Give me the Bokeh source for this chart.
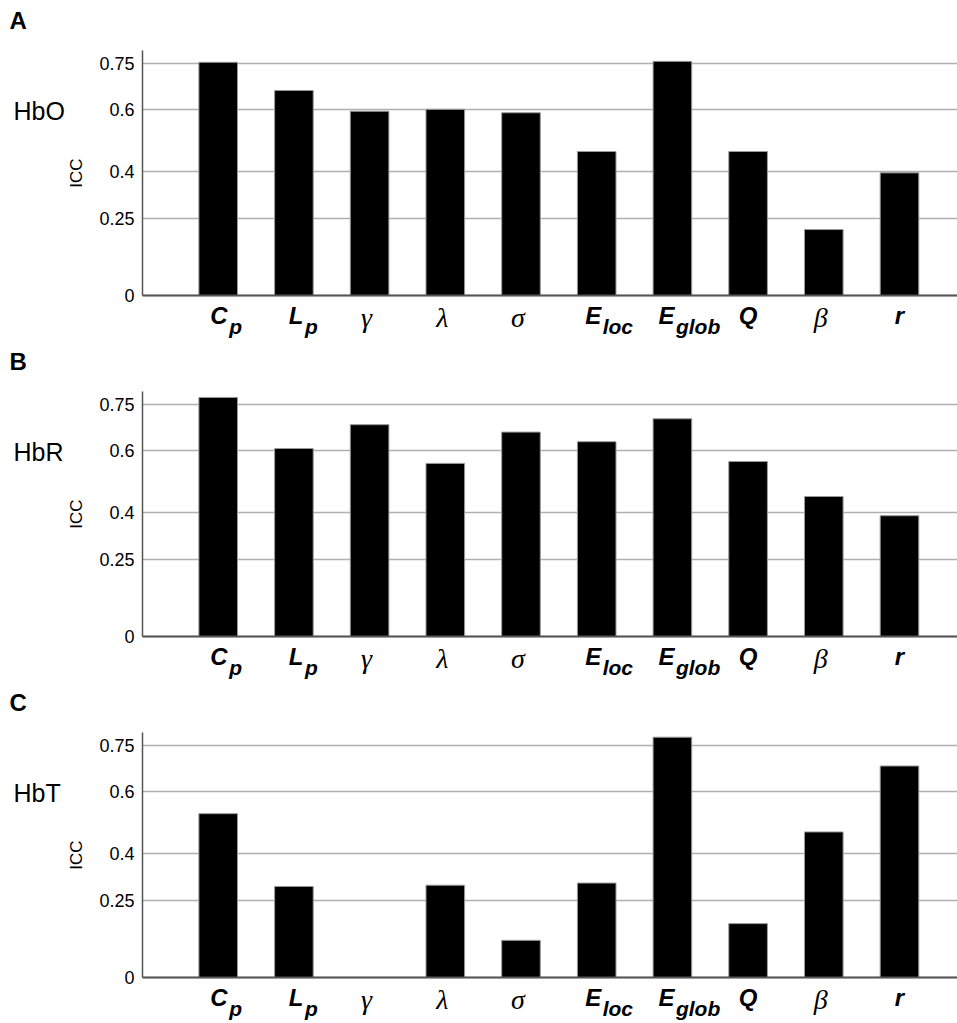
from bokeh.plotting import figure
from bokeh.layouts import column
from bokeh.models import Range1d, FixedTicker, ColumnDataSource, LabelSet, Label
from bokeh.core.properties import value
from bokeh.embed import file_html
from bokeh.resources import INLINE

# ---- data ----
metrics = ["Cp", "Lp", "gamma", "lambda", "sigma", "Eloc", "Eglob", "Q", "beta", "r"]
label_main = ["C", "L", "γ", "λ", "σ", "E", "E", "Q", "β", "r"]
label_sub = ["p", "p", "", "", "", "loc", "glob", "", "", ""]
greek_symbols = ["γ", "λ", "σ", "β"]

hbo = [0.753, 0.662, 0.595, 0.601, 0.590, 0.465, 0.756, 0.465, 0.213, 0.396]
hbr = [0.772, 0.607, 0.684, 0.559, 0.660, 0.629, 0.703, 0.565, 0.452, 0.390]
hbt = [0.529, 0.294, 0.0, 0.298, 0.120, 0.305, 0.776, 0.174, 0.470, 0.683]

panel_letters = ["A", "B", "C"]
signals = ["HbO", "HbR", "HbT"]
y_ticks = [0.0, 0.25, 0.4, 0.6, 0.75]
y_tick_labels = ["0", "0.25", "0.4", "0.6", "0.75"]

SANS = "Liberation Sans"
SERIF = "Liberation Serif"

# ---- geometry (pixels) ----
W, H = 957, 341
AXIS_X = 142          # y-axis position in px from the left
ZERO_Y = 295          # y=0 position in px from the top
PX_PER_CAT = 75.7
PX_PER_UNIT = 309.7
Y_TOP = 0.791
X_END = (W - AXIS_X) / PX_PER_CAT


def make_panel(letter, signal, values):
    n = len(metrics)
    xs = [i + 1 for i in range(n)]
    p = figure(width=W, height=H, output_backend="svg", toolbar_location=None,
               x_range=Range1d(-AXIS_X / PX_PER_CAT, X_END),
               y_range=Range1d(-(H - ZERO_Y) / PX_PER_UNIT, ZERO_Y / PX_PER_UNIT),
               min_border=0, title=None)
    p.outline_line_color = None
    p.background_fill_color = "white"
    p.border_fill_color = "white"

    # gridlines restricted to the data area
    p.xgrid.visible = False
    p.ygrid.ticker = FixedTicker(ticks=y_ticks)
    p.ygrid.grid_line_color = "#b0b0b0"
    p.ygrid.grid_line_width = 1.5
    p.ygrid.bounds = (0, Y_TOP)
    try:
        p.ygrid.cross_bounds = (0, X_END)
    except Exception:
        pass

    src = ColumnDataSource(dict(x=xs, top=values, name=metrics))
    p.vbar(x="x", top="top", bottom=0, width=0.51, source=src,
           fill_color="black", line_color="#9a9a9a", line_width=1)

    # x axis: line only, at y=0
    p.xaxis.fixed_location = 0
    p.xaxis.bounds = (0, X_END)
    p.xaxis.ticker = FixedTicker(ticks=[])
    p.xaxis.axis_line_color = "#555555"
    p.xaxis.axis_line_width = 2
    p.xaxis.major_tick_line_color = None
    p.xaxis.minor_tick_line_color = None

    # y axis at x=0
    p.yaxis.fixed_location = 0
    p.yaxis.bounds = (0, Y_TOP)
    p.yaxis.ticker = FixedTicker(ticks=y_ticks)
    p.yaxis.major_label_overrides = dict(zip(y_ticks, y_tick_labels))
    p.yaxis.major_tick_line_color = None
    p.yaxis.minor_tick_line_color = None
    p.yaxis.major_tick_out = 0
    p.yaxis.major_tick_in = 0
    p.yaxis.axis_line_color = "#555555"
    p.yaxis.axis_line_width = 1.5
    p.yaxis.major_label_text_font = SANS
    p.yaxis.major_label_text_font_size = "18px"
    p.yaxis.major_label_text_color = "black"
    p.yaxis.major_label_standoff = 8
    p.yaxis.axis_label = "ICC"
    p.yaxis.axis_label_text_font = SANS
    p.yaxis.axis_label_text_font_style = "normal"
    p.yaxis.axis_label_text_font_size = "17px"
    p.yaxis.axis_label_text_color = "black"
    p.yaxis.axis_label_standoff = 10

    # category labels
    with_sub = [i for i in range(n) if label_sub[i]]
    plain = [i for i in range(n) if not label_sub[i] and label_main[i] not in greek_symbols]
    greek = [i for i in range(n) if label_main[i] in greek_symbols]
    joint = [12 - 2.5 * len(label_sub[i]) for i in with_sub]

    s_main = ColumnDataSource(dict(x=[xs[i] for i in with_sub], y=[0] * len(with_sub),
                                   t=[label_main[i] for i in with_sub], dx=joint))
    s_sub = ColumnDataSource(dict(x=[xs[i] for i in with_sub], y=[0] * len(with_sub),
                                  t=[label_sub[i] for i in with_sub], dx=[d + 1.5 for d in joint]))
    s_plain = ColumnDataSource(dict(x=[xs[i] for i in plain], y=[0] * len(plain),
                                    t=[label_main[i] for i in plain]))
    s_greek = ColumnDataSource(dict(x=[xs[i] for i in greek], y=[0] * len(greek),
                                    t=[label_main[i] for i in greek]))

    p.add_layout(LabelSet(x="x", y="y", text="t", source=s_main, x_offset="dx", y_offset=-20,
                          text_align="right", text_baseline="middle", text_font=value(SANS),
                          text_font_style="bold italic", text_font_size="24px", text_color="black"))
    p.add_layout(LabelSet(x="x", y="y", text="t", source=s_sub, x_offset="dx", y_offset=-31,
                          text_align="left", text_baseline="middle", text_font=value(SANS),
                          text_font_style="bold italic", text_font_size="21px", text_color="black"))
    p.add_layout(LabelSet(x="x", y="y", text="t", source=s_plain, x_offset=0, y_offset=-20,
                          text_align="center", text_baseline="middle", text_font=value(SANS),
                          text_font_style="bold italic", text_font_size="24px", text_color="black"))
    p.add_layout(LabelSet(x="x", y="y", text="t", source=s_greek, x_offset=-3, y_offset=-22,
                          text_align="center", text_baseline="middle", text_font=value(SERIF),
                          text_font_style="italic", text_font_size="28px", text_color="black"))

    # panel letter and signal name
    p.add_layout(Label(x=0, y=Y_TOP, x_offset=-133, y_offset=30, text=letter,
                       text_align="left", text_baseline="middle", text_font=SANS,
                       text_font_style="bold", text_font_size="24px", text_color="black"))
    p.add_layout(Label(x=0, y=0.6, x_offset=-129, y_offset=-1, text=signal,
                       text_align="left", text_baseline="middle", text_font=SANS,
                       text_font_size="25px", text_color="black"))
    return p


panels = [make_panel(l, s, v) for l, s, v in zip(panel_letters, signals, [hbo, hbr, hbt])]
layout = column(*panels, spacing=0)
open("out.html", "w").write(file_html(layout, INLINE))
